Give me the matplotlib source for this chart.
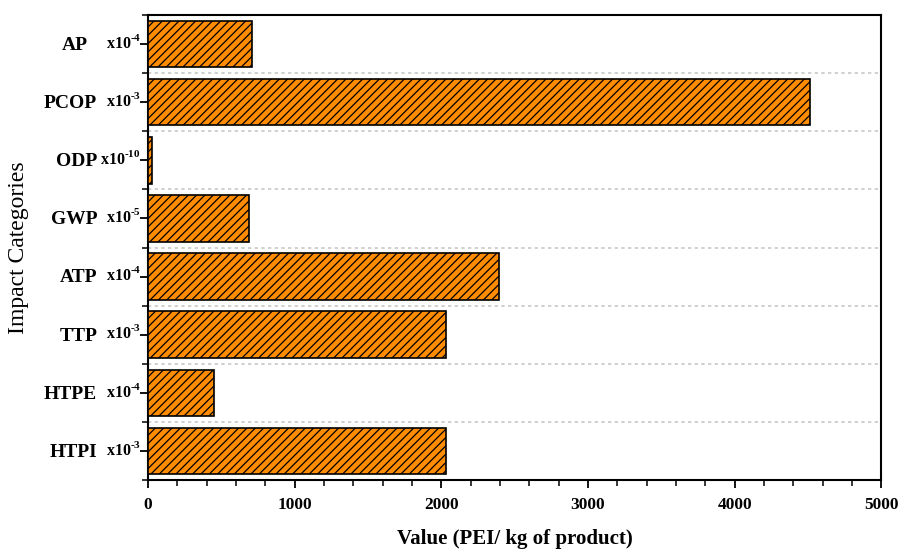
import matplotlib.pyplot as plt
import numpy as np
from matplotlib.ticker import MultipleLocator

plt.rcParams['font.family'] = 'Liberation Serif'
plt.rcParams['mathtext.fontset'] = 'custom'
plt.rcParams['mathtext.rm'] = 'Liberation Serif:bold'
plt.rcParams['mathtext.bf'] = 'Liberation Serif:bold'
plt.rcParams['hatch.linewidth'] = 0.9

# impact categories, bottom to top
categories = ['HTPI', 'HTPE', 'TTP', 'ATP', 'GWP', 'ODP', 'PCOP', 'AP']
exponents = ['-3', '-4', '-3', '-4', '-5', '-10', '-3', '-4']
values = [2030, 450, 2030, 2390, 690, 25, 4510, 710]

fig = plt.figure(figsize=(9, 5.5), dpi=100)
ax = fig.add_axes([0.1644, 0.127, 0.815, 0.846])

y = np.arange(len(categories))
ax.barh(y, values, height=0.8, color='#ff8c00', edgecolor='black',
        linewidth=1.2, hatch='////', zorder=3)

ax.set_xlim(0, 5000)
ax.set_ylim(-0.5, len(categories) - 0.5)

# dotted separators between the bars
for b in y[:-1] + 0.5:
    ax.axhline(b, color='#c8c8c8', linestyle=(0, (2, 2)), linewidth=1.2, zorder=1)

ax.xaxis.set_major_locator(MultipleLocator(1000))
ax.xaxis.set_minor_locator(MultipleLocator(200))
ax.set_yticks(y)
ax.set_yticks(list(y[:-1] + 0.5) + [-0.5, len(categories) - 0.5], minor=True)
ax.set_yticklabels([])

ax.tick_params(axis='both', which='major', direction='out', length=6, width=1.3)
ax.tick_params(axis='both', which='minor', direction='out', length=4, width=1.1)
ax.tick_params(axis='x', labelsize=12.5, pad=6)
for lab in ax.get_xticklabels():
    lab.set_fontweight('bold')

# category names and their unit multipliers
for yi, name, e in zip(y, categories, exponents):
    off = -43 if name == 'AP' else -36.5
    ax.annotate(name, xy=(0, yi), xycoords=('axes fraction', 'data'),
                xytext=(off, -1), textcoords='offset points', ha='right', va='center',
                fontsize=14, fontweight='bold')
    ax.annotate(r'x10$^{\text{' + e + '}}$', xy=(0, yi), xycoords=('axes fraction', 'data'),
                xytext=(-5, 1), textcoords='offset points', ha='right', va='center',
                fontsize=11.5, fontweight='bold')

for s in ax.spines.values():
    s.set_linewidth(1.5)

ax.set_xlabel('Value (PEI/ kg of product)', fontsize=15, fontweight='bold')
ax.set_ylabel('Impact Categories', fontsize=17)
ax.xaxis.set_label_coords(0.5, -0.105)
ax.yaxis.set_label_coords(-0.162, 0.5)

fig.savefig('out.png', dpi=100)
